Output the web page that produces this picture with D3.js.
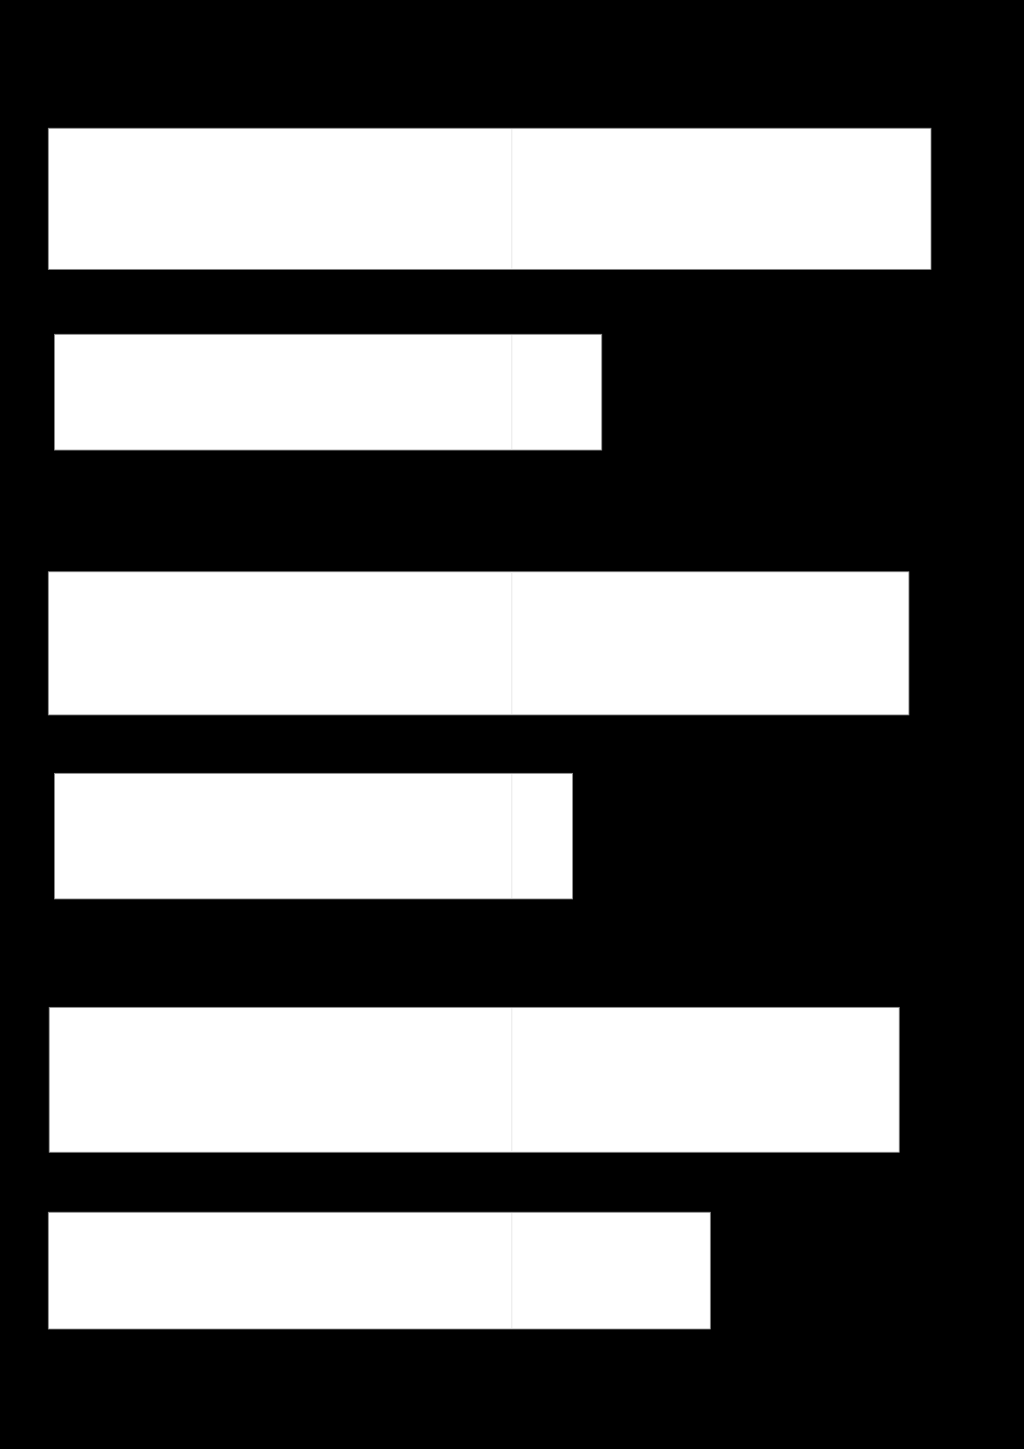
<!DOCTYPE html>
<html>
<head>
<meta charset="utf-8">
<script src="https://cdn.jsdelivr.net/npm/d3@7"></script>
<style>
  html, body { margin: 0; padding: 0; background: #000; }
  svg { display: block; }
</style>
</head>
<body>
<svg id="chart"></svg>
<script>
// bar extents, in percent of the full scale
var barStart = [0, 0.7, 0, 0.7, 0.1, 0];
var barEnd   = [100, 62.7, 97.5, 59.4, 96.4, 75.0];
// vertical extents, in percent of page height
var barTop    = [8.85, 23.07, 39.46, 53.37, 69.52, 83.66];
var barBottom = [18.59, 31.06, 49.34, 62.04, 79.52, 91.72];
var gridValues = [52.5];

var width = 1024,
    height = 1449;

var svg = d3.select("#chart")
    .attr("width", width)
    .attr("height", height);

svg.append("rect")
    .attr("width", width)
    .attr("height", height)
    .attr("fill", "#000");

var x = d3.scaleLinear().domain([0, 100]).range([48.3, 931]);
var y = d3.scaleLinear().domain([0, 100]).range([0, height]);

var bars = barStart.map(function(s, i) {
    return { start: s, end: barEnd[i], top: barTop[i], bottom: barBottom[i] };
});

var bar = svg.selectAll("g.bar")
    .data(bars)
    .enter()
    .append("g")
    .attr("class", "bar");

bar.append("rect")
    .attr("x", function(d) { return x(d.start); })
    .attr("y", function(d) { return y(d.top); })
    .attr("width", function(d) { return x(d.end) - x(d.start); })
    .attr("height", function(d) { return y(d.bottom) - y(d.top); })
    .attr("fill", "#fff")
    .attr("stroke", "#8a8a8a")
    .attr("stroke-width", 0.8);

// faint gridline, only shows inside the white bars
bar.selectAll("line.grid")
    .data(function(d) {
        return gridValues
            .filter(function(g) { return g > d.start && g < d.end; })
            .map(function(g) { return { v: g, top: d.top, bottom: d.bottom }; });
    })
    .enter()
    .append("line")
    .attr("class", "grid")
    .attr("x1", function(g) { return x(g.v); })
    .attr("x2", function(g) { return x(g.v); })
    .attr("y1", function(g) { return y(g.top) + 1; })
    .attr("y2", function(g) { return y(g.bottom) - 1; })
    .attr("stroke", "#efefef")
    .attr("stroke-width", 1.5);
</script>
</body>
</html>
